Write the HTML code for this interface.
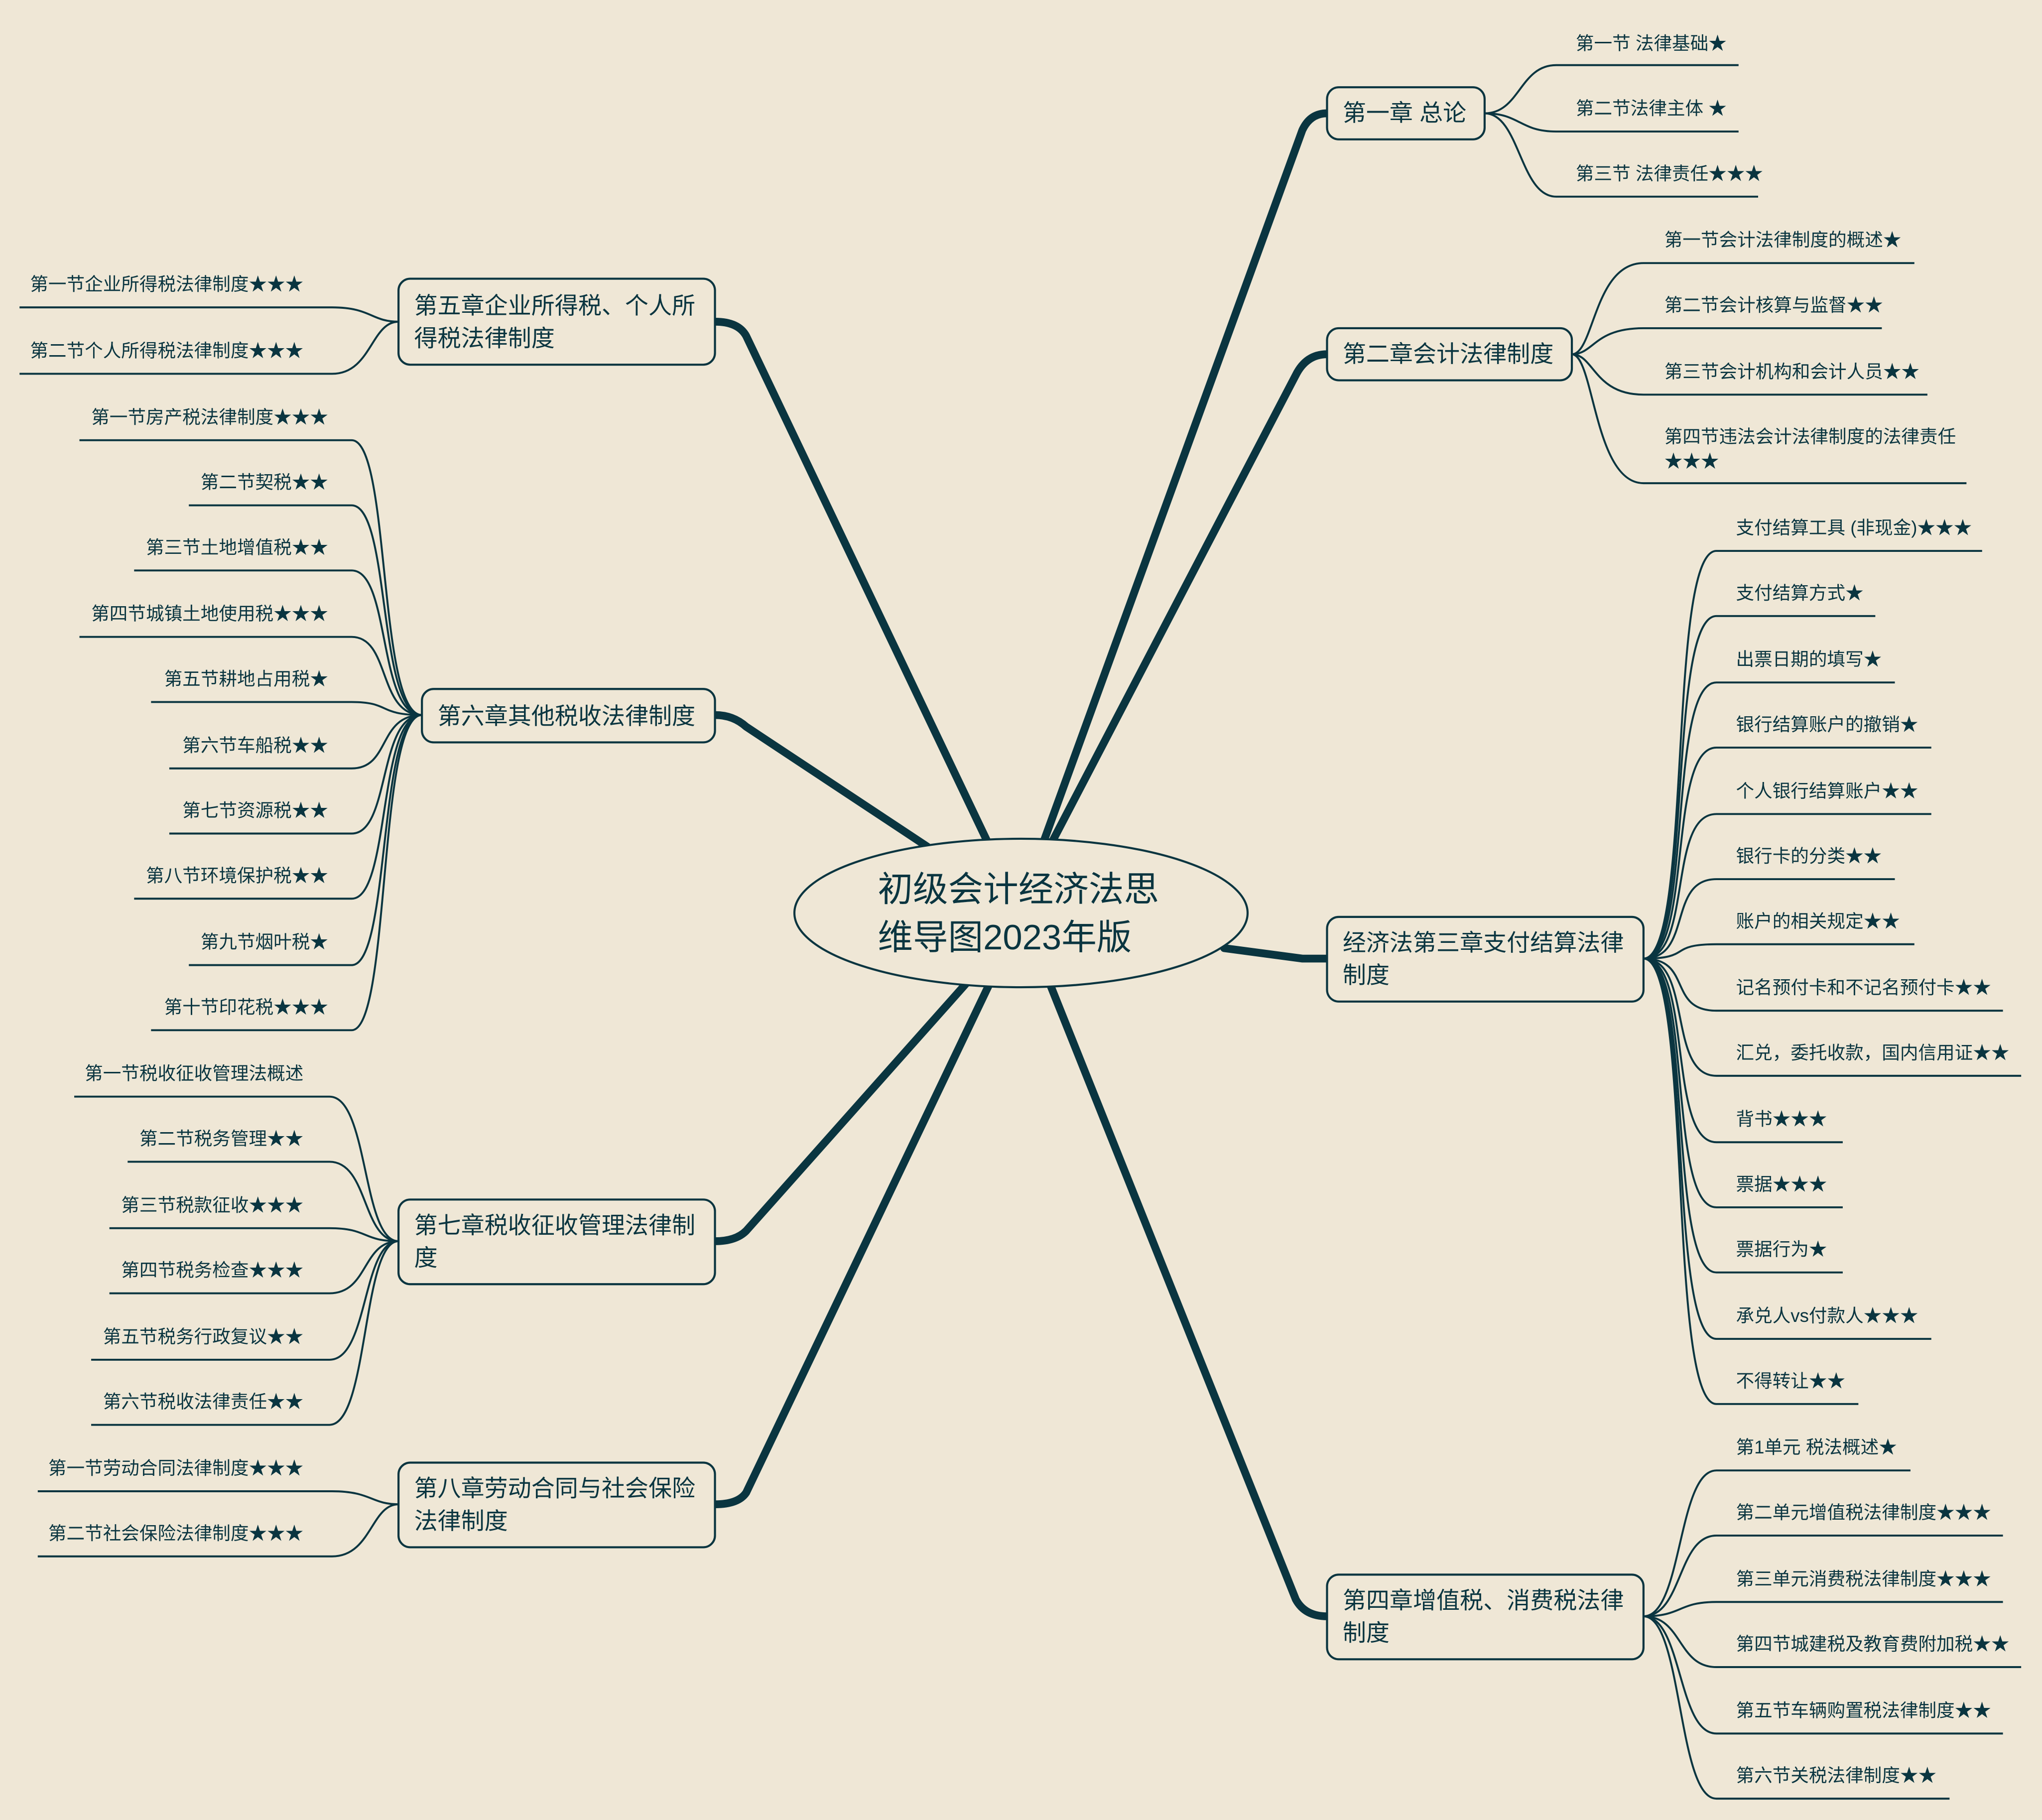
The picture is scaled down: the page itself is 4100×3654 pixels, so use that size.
<!DOCTYPE html>
<html><head><meta charset="utf-8"><style>
html,body{margin:0;padding:0;background:#efe7d6;}
svg{display:block;}
text{font-family:"Liberation Sans","Noto Sans CJK SC",sans-serif;fill:#0a3540;}
.s{font-size:14px;}
.n{font-size:18px;}
.m{fill:none;stroke:#0a3540;stroke-width:6;stroke-linecap:round;}
.c{fill:none;stroke:#0a3540;stroke-width:1.5;}
.b{fill:#efe7d6;stroke:#0a3540;stroke-width:1.6;}
</style></head><body>
<svg width="4100" height="3654" viewBox="0 0 1568 1397.4" preserveAspectRatio="none" xmlns="http://www.w3.org/2000/svg">
<rect width="1568" height="1398" fill="#efe7d6"/>
<path class="m" d="M800 650 L1000 100 Q1006 87 1019 87"/>
<path class="m" d="M806 650 L995 288 Q1003 272 1019 272"/>
<path class="m" d="M940 728 L1000 736 L1019 736"/>
<path class="m" d="M806 755 L995 1228 Q1002 1241 1019 1241"/>
<path class="m" d="M760 650 L573 258 Q567 247 549 247"/>
<path class="m" d="M712 650 L573 558 Q563 549 549 549"/>
<path class="m" d="M742 755 L573 945 Q565 953 549 953"/>
<path class="m" d="M760 755 L573 1146 Q567 1155 549 1155"/>
<ellipse cx="784" cy="701" rx="174" ry="57" class="b"/>
<text x="674" y="692" style="font-size:27px">初级会计经济法思</text>
<text x="674" y="729" style="font-size:27px">维导图2023年版</text>
<rect x="1019" y="67" width="121" height="40" rx="9" class="b"/>
<text class="n" x="1031" y="93">第一章 总论</text>
<path class="c" d="M1140 87 C1167 87 1167 50 1195 50 L1335 50"/>
<path class="c" d="M1140 87 C1167 87 1167 101 1195 101 L1335 101"/>
<path class="c" d="M1140 87 C1167 87 1167 151 1195 151 L1350 151"/>
<text class="s" x="1210" y="38">第一节 法律基础★</text>
<text class="s" x="1210" y="88">第二节法律主体 ★</text>
<text class="s" x="1210" y="138">第三节 法律责任★★★</text>
<rect x="1019" y="252" width="188" height="40" rx="9" class="b"/>
<text class="n" x="1031" y="278">第二章会计法律制度</text>
<path class="c" d="M1207 272 C1224 272 1224 202 1262 202 L1470 202"/>
<path class="c" d="M1207 272 C1224 272 1224 252 1262 252 L1445 252"/>
<path class="c" d="M1207 272 C1224 272 1224 303 1262 303 L1480 303"/>
<path class="c" d="M1207 272 C1224 272 1224 371 1262 371 L1510 371"/>
<text class="s" x="1278" y="189">第一节会计法律制度的概述★</text>
<text class="s" x="1278" y="239">第二节会计核算与监督★★</text>
<text class="s" x="1278" y="290">第三节会计机构和会计人员★★</text>
<text class="s" x="1278" y="340">第四节违法会计法律制度的法律责任</text>
<text class="s" x="1278" y="359">★★★</text>
<rect x="1019" y="704" width="243" height="65" rx="9" class="b"/>
<text class="n" x="1031" y="730">经济法第三章支付结算法律</text>
<text class="n" x="1031" y="755">制度</text>
<g>
<path class="c" d="M1262 736 C1300 736 1280 423 1318 423 L1522 423"/>
<path class="c" d="M1262 736 C1300 736 1280 473 1318 473 L1440 473"/>
<path class="c" d="M1262 736 C1300 736 1280 524 1318 524 L1455 524"/>
<path class="c" d="M1262 736 C1300 736 1280 574 1318 574 L1483 574"/>
<path class="c" d="M1262 736 C1300 736 1280 625 1318 625 L1483 625"/>
<path class="c" d="M1262 736 C1300 736 1280 675 1318 675 L1455 675"/>
<path class="c" d="M1262 736 C1300 736 1280 725 1318 725 L1470 725"/>
<path class="c" d="M1262 736 C1300 736 1280 776 1318 776 L1538 776"/>
<path class="c" d="M1262 736 C1300 736 1280 826 1318 826 L1552 826"/>
<path class="c" d="M1262 736 C1300 736 1280 877 1318 877 L1415 877"/>
<path class="c" d="M1262 736 C1300 736 1280 927 1318 927 L1415 927"/>
<path class="c" d="M1262 736 C1300 736 1280 977 1318 977 L1415 977"/>
<path class="c" d="M1262 736 C1300 736 1280 1028 1318 1028 L1483 1028"/>
<path class="c" d="M1262 736 C1300 736 1280 1078 1318 1078 L1427 1078"/>
</g>
<text class="s" x="1333" y="410">支付结算工具 (非现金)★★★</text>
<text class="s" x="1333" y="460">支付结算方式★</text>
<text class="s" x="1333" y="511">出票日期的填写★</text>
<text class="s" x="1333" y="561">银行结算账户的撤销★</text>
<text class="s" x="1333" y="612">个人银行结算账户★★</text>
<text class="s" x="1333" y="662">银行卡的分类★★</text>
<text class="s" x="1333" y="712">账户的相关规定★★</text>
<text class="s" x="1333" y="763">记名预付卡和不记名预付卡★★</text>
<text class="s" x="1333" y="813">汇兑，委托收款，国内信用证★★</text>
<text class="s" x="1333" y="864">背书★★★</text>
<text class="s" x="1333" y="914">票据★★★</text>
<text class="s" x="1333" y="964">票据行为★</text>
<text class="s" x="1333" y="1015">承兑人vs付款人★★★</text>
<text class="s" x="1333" y="1065">不得转让★★</text>
<rect x="1019" y="1209" width="243" height="65" rx="9" class="b"/>
<text class="n" x="1031" y="1235">第四章增值税、消费税法律</text>
<text class="n" x="1031" y="1260">制度</text>
<path class="c" d="M1262 1241 C1292 1241 1288 1129 1318 1129 L1467 1129"/>
<path class="c" d="M1262 1241 C1292 1241 1288 1179 1318 1179 L1538 1179"/>
<path class="c" d="M1262 1241 C1292 1241 1288 1230 1318 1230 L1538 1230"/>
<path class="c" d="M1262 1241 C1292 1241 1288 1280 1318 1280 L1552 1280"/>
<path class="c" d="M1262 1241 C1292 1241 1288 1331 1318 1331 L1538 1331"/>
<path class="c" d="M1262 1241 C1292 1241 1288 1381 1318 1381 L1497 1381"/>
<text class="s" x="1333" y="1116">第1单元 税法概述★</text>
<text class="s" x="1333" y="1166">第二单元增值税法律制度★★★</text>
<text class="s" x="1333" y="1217">第三单元消费税法律制度★★★</text>
<text class="s" x="1333" y="1267">第四节城建税及教育费附加税★★</text>
<text class="s" x="1333" y="1318">第五节车辆购置税法律制度★★</text>
<text class="s" x="1333" y="1368">第六节关税法律制度★★</text>
<rect x="306" y="214" width="243" height="66" rx="9" class="b"/>
<text class="n" x="318" y="241">第五章企业所得税、个人所</text>
<text class="n" x="318" y="266">得税法律制度</text>
<path class="c" d="M306 247 C285 247 285 236 255 236 L15 236"/>
<path class="c" d="M306 247 C285 247 285 287 255 287 L15 287"/>
<text class="s" x="233" y="223" text-anchor="end">第一节企业所得税法律制度★★★</text>
<text class="s" x="233" y="274" text-anchor="end">第二节个人所得税法律制度★★★</text>
<rect x="324" y="529" width="225" height="41" rx="9" class="b"/>
<text class="n" x="336" y="556">第六章其他税收法律制度</text>
<path class="c" d="M324 549 C290 549 300 338 270 338 L61 338"/>
<path class="c" d="M324 549 C290 549 300 388 270 388 L145 388"/>
<path class="c" d="M324 549 C290 549 300 438 270 438 L103 438"/>
<path class="c" d="M324 549 C290 549 300 489 270 489 L61 489"/>
<path class="c" d="M324 549 C290 549 300 539 270 539 L116 539"/>
<path class="c" d="M324 549 C290 549 300 590 270 590 L130 590"/>
<path class="c" d="M324 549 C290 549 300 640 270 640 L130 640"/>
<path class="c" d="M324 549 C290 549 300 690 270 690 L103 690"/>
<path class="c" d="M324 549 C290 549 300 741 270 741 L145 741"/>
<path class="c" d="M324 549 C290 549 300 791 270 791 L116 791"/>
<text class="s" x="252" y="325" text-anchor="end">第一节房产税法律制度★★★</text>
<text class="s" x="252" y="375" text-anchor="end">第二节契税★★</text>
<text class="s" x="252" y="425" text-anchor="end">第三节土地增值税★★</text>
<text class="s" x="252" y="476" text-anchor="end">第四节城镇土地使用税★★★</text>
<text class="s" x="252" y="526" text-anchor="end">第五节耕地占用税★</text>
<text class="s" x="252" y="577" text-anchor="end">第六节车船税★★</text>
<text class="s" x="252" y="627" text-anchor="end">第七节资源税★★</text>
<text class="s" x="252" y="677" text-anchor="end">第八节环境保护税★★</text>
<text class="s" x="252" y="728" text-anchor="end">第九节烟叶税★</text>
<text class="s" x="252" y="778" text-anchor="end">第十节印花税★★★</text>
<rect x="306" y="921" width="243" height="65" rx="9" class="b"/>
<text class="n" x="318" y="947">第七章税收征收管理法律制</text>
<text class="n" x="318" y="972">度</text>
<path class="c" d="M306 953 C278 953 283 842 253 842 L57 842"/>
<path class="c" d="M306 953 C278 953 283 892 253 892 L98 892"/>
<path class="c" d="M306 953 C278 953 283 943 253 943 L84 943"/>
<path class="c" d="M306 953 C278 953 283 993 253 993 L84 993"/>
<path class="c" d="M306 953 C278 953 283 1044 253 1044 L70 1044"/>
<path class="c" d="M306 953 C278 953 283 1094 253 1094 L70 1094"/>
<text class="s" x="233" y="829" text-anchor="end">第一节税收征收管理法概述</text>
<text class="s" x="233" y="879" text-anchor="end">第二节税务管理★★</text>
<text class="s" x="233" y="930" text-anchor="end">第三节税款征收★★★</text>
<text class="s" x="233" y="980" text-anchor="end">第四节税务检查★★★</text>
<text class="s" x="233" y="1031" text-anchor="end">第五节税务行政复议★★</text>
<text class="s" x="233" y="1081" text-anchor="end">第六节税收法律责任★★</text>
<rect x="306" y="1123" width="243" height="65" rx="9" class="b"/>
<text class="n" x="318" y="1149">第八章劳动合同与社会保险</text>
<text class="n" x="318" y="1174">法律制度</text>
<path class="c" d="M306 1155 C285 1155 285 1145 255 1145 L29 1145"/>
<path class="c" d="M306 1155 C285 1155 285 1195 255 1195 L29 1195"/>
<text class="s" x="233" y="1132" text-anchor="end">第一节劳动合同法律制度★★★</text>
<text class="s" x="233" y="1182" text-anchor="end">第二节社会保险法律制度★★★</text>
</svg>
</body></html>
